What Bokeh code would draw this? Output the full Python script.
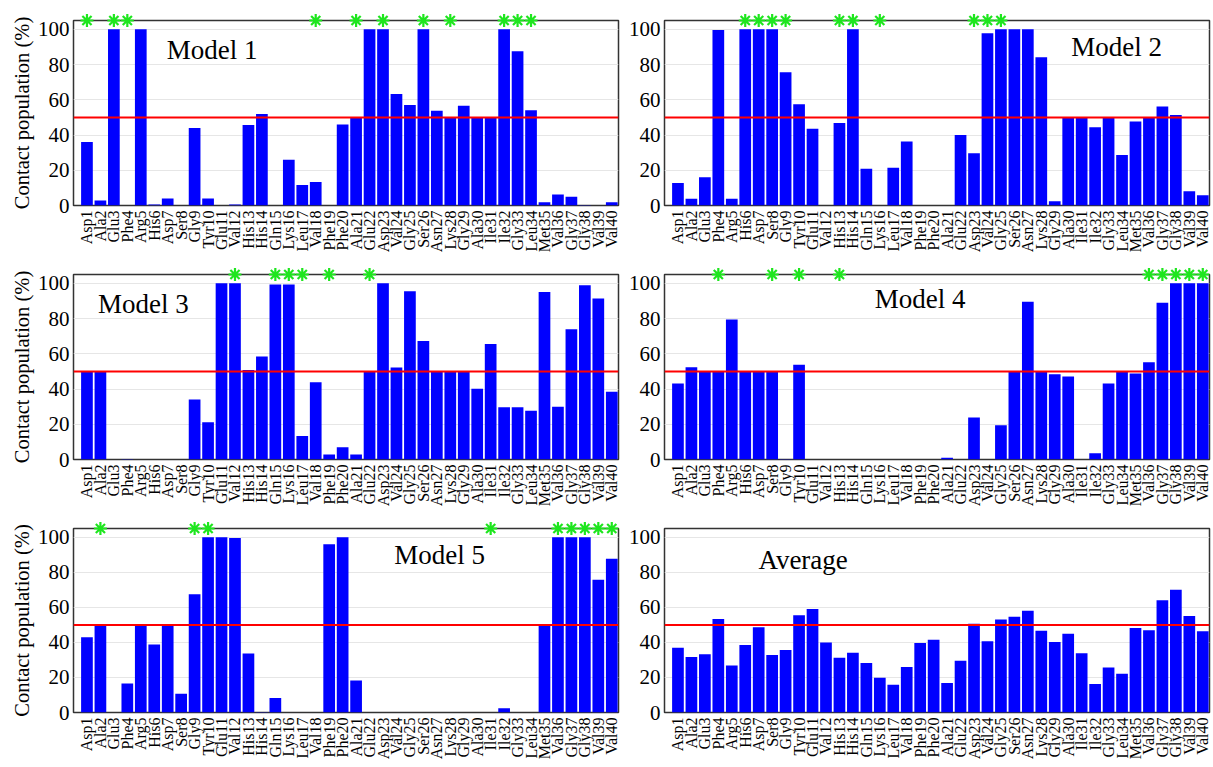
import numpy as np
from bokeh.plotting import figure
from bokeh.layouts import gridplot
from bokeh.models import Range1d, FixedTicker, Span, Label, ColumnDataSource
from bokeh.embed import file_html
from bokeh.resources import INLINE

residues = ["Asp1", "Ala2", "Glu3", "Phe4", "Arg5", "His6", "Asp7", "Ser8", "Gly9", "Tyr10",
            "Glu11", "Val12", "His13", "His14", "Gln15", "Lys16", "Leu17", "Val18", "Phe19", "Phe20",
            "Ala21", "Glu22", "Asp23", "Val24", "Gly25", "Ser26", "Asn27", "Lys28", "Gly29", "Ala30",
            "Ile31", "Ile32", "Gly33", "Leu34", "Met35", "Val36", "Gly37", "Gly38", "Val39", "Val40"]

model1 = [36, 2.8, 100, 0, 100, 0.5, 4, 0, 44, 4,
          0, 0.5, 45.7, 52, 0, 26, 11.7, 13.3, 0, 46,
          50, 100, 100, 63.3, 57, 100, 53.8, 50, 56.6, 50,
          50, 100, 87.6, 54, 1.9, 6.2, 4.9, 0.3, 0, 1.9]
model2 = [12.8, 3.8, 16, 99.6, 3.8, 100, 100, 100, 75.6, 57.5,
          43.6, 0, 46.8, 100, 20.9, 0, 21.4, 36.3, 0, 0,
          0, 40, 29.7, 97.7, 100, 100, 100, 84.2, 2.4, 50,
          50, 44.4, 50, 28.6, 47.7, 50, 56.2, 51.3, 8.1, 5.8]
model3 = [50, 50, 0, 0.3, 0, 0, 0, 0, 34, 21.2,
          100, 100, 50.8, 58.5, 99.3, 99.3, 13.3, 43.9, 2.8, 6.9,
          2.8, 50, 100, 52.2, 95.5, 67.2, 50, 50, 50, 40.2,
          65.5, 29.6, 29.6, 27.6, 95.1, 30, 73.9, 98.9, 91.4, 38.5]
model4 = [43.2, 52.3, 50, 50, 79.4, 50, 50, 50, 0.3, 53.8,
          0, 0, 0, 0, 0, 0, 0, 0, 0, 0,
          1, 0, 23.8, 0, 19.5, 50, 89.5, 50, 48.4, 47.1,
          0, 3.6, 43.2, 50, 48.8, 55.2, 88.9, 100, 100, 100]
model5 = [43, 50, 0, 16.5, 50, 38.8, 50, 10.7, 67.5, 100,
          100, 99.6, 33.6, 0.3, 8.3, 0, 0, 0, 96, 100,
          18.2, 0, 0, 0, 0, 0, 0, 0, 0, 0,
          0, 2.4, 0, 0, 50, 100, 100, 100, 75.8, 87.8]
average = [37, 31.7, 33.2, 53.3, 26.8, 38.5, 48.6, 32.8, 35.6, 55.5,
           59.1, 40, 31.3, 34.1, 28.3, 19.9, 15.9, 25.9, 39.6, 41.5,
           16.9, 29.5, 50.7, 40.7, 53.1, 54.6, 58, 46.7, 40.2, 45,
           33.8, 16.3, 25.7, 22.1, 48.2, 46.9, 64, 70, 55, 46.3]

# residue numbers marked with a green asterisk
stars1 = [1, 3, 4, 18, 21, 23, 26, 28, 32, 33, 34]
stars2 = [6, 7, 8, 9, 13, 14, 16, 23, 24, 25]
stars3 = [12, 15, 16, 17, 19, 22]
stars4 = [4, 8, 10, 13, 36, 37, 38, 39, 40]
stars5 = [2, 9, 10, 31, 36, 37, 38, 39, 40]
stars_avg = []

titles = ["Model 1", "Model 2", "Model 3", "Model 4", "Model 5", "Average"]
y_ticks = [0, 20, 40, 60, 80, 100]
y_label = "Contact population (%)"
threshold = 50

FONT = "Liberation Serif"
Y_TOP = 105
X_START, X_END = -1, 39.5


def make_panel(values, stars, title, tx, ty, left_col, height, border_top, border_bottom):
    if left_col:
        width, bl, br = 623, 73, 5
    else:
        width, bl, br = 588, 41, 2
    p = figure(width=width, height=height,
               x_range=Range1d(X_START, X_END), y_range=Range1d(0, Y_TOP),
               output_backend="svg", toolbar_location=None,
               min_border_left=bl, min_border_right=br,
               min_border_top=border_top, min_border_bottom=border_bottom,
               background_fill_color="white", border_fill_color="white")
    xs = list(range(len(residues)))
    src = ColumnDataSource(dict(x=xs, top=values))
    p.vbar(x="x", top="top", width=0.87, source=src,
           fill_color="#0000ff", line_color=None)
    p.add_layout(Span(location=threshold, dimension="width",
                      line_color="#ff0000", line_width=2))
    if stars:
        sx = [s - 1 for s in stars]
        p.scatter(x=sx, y=[Y_TOP] * len(sx), marker="asterisk", size=13,
                  line_color="#1ee61e", line_width=2.2, level="overlay")
    p.add_layout(Label(x=tx, y=ty, text=title, text_font=FONT,
                       text_font_size="27px", text_align="center",
                       text_baseline="middle", text_color="black"))
    # axes
    p.xaxis.ticker = FixedTicker(ticks=xs)
    p.xaxis.major_label_overrides = {i: r for i, r in enumerate(residues)}
    p.xaxis.major_label_orientation = np.pi / 2
    p.xaxis.major_label_text_font = FONT
    p.xaxis.major_label_text_font_size = "16px"
    p.xaxis.major_label_standoff = 5
    p.yaxis.ticker = FixedTicker(ticks=y_ticks)
    p.yaxis.major_label_text_font = FONT
    p.yaxis.major_label_text_font_size = "21px"
    p.yaxis.major_label_standoff = 4
    for ax in (p.xaxis, p.yaxis):
        ax.axis_line_color = None
        ax.major_tick_line_color = None
        ax.minor_tick_line_color = None
        ax.major_tick_out = 0
        ax.major_tick_in = 0
        ax.major_label_text_color = "black"
    if left_col:
        p.yaxis.axis_label = y_label
        p.yaxis.axis_label_text_font = FONT
        p.yaxis.axis_label_text_font_size = "20.5px"
        p.yaxis.axis_label_text_font_style = "normal"
        p.yaxis.axis_label_text_color = "black"
        p.yaxis.axis_label_standoff = 2
    p.xgrid.visible = False
    p.ygrid.grid_line_color = "#e6e6e6"
    p.outline_line_color = "#333333"
    p.outline_line_width = 1.5
    return p


p1 = make_panel(model1, stars1, titles[0], 9.3, 88, True, 262, 20, 57)
p2 = make_panel(model2, stars2, titles[1], 32.6, 90, False, 262, 20, 57)
p3 = make_panel(model3, stars3, titles[2], 4.2, 88, True, 254, 12, 57)
p4 = make_panel(model4, stars4, titles[3], 18.0, 91, False, 254, 12, 57)
p5 = make_panel(model5, stars5, titles[4], 26.2, 90, True, 246, 12, 49)
p6 = make_panel(average, stars_avg, titles[5], 9.3, 87, False, 246, 12, 49)

grid = gridplot([[p1, p2], [p3, p4], [p5, p6]], toolbar_location=None)

open("out.html", "w").write(file_html(grid, INLINE))
